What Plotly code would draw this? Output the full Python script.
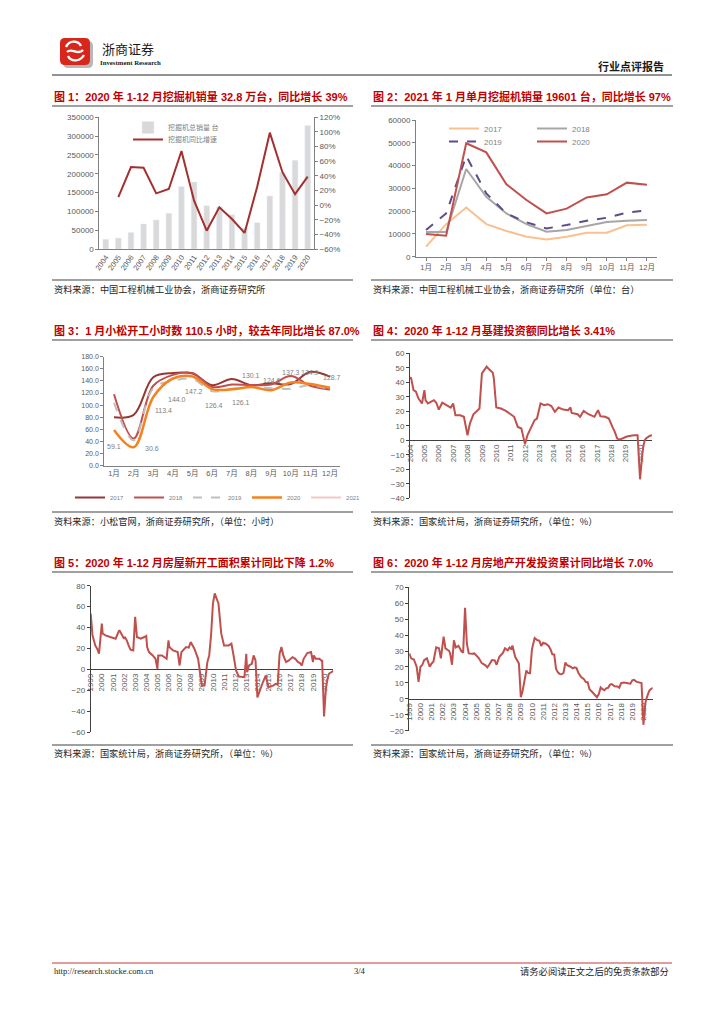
import plotly.graph_objects as go

W, H = 724, 1024
OFF = 8  # page body margin of the html page
def px(x): return (x - OFF) / W
def py(y): return 1 - (y - OFF) / H

# ---------------- data ----------------
# Fig.1 excavator annual sales
exc_years = [str(y) for y in range(2004, 2021)]
exc_sales = [26000, 29000, 44000, 66500, 77000, 95000, 166000, 178000, 115000,
             112000, 91000, 56000, 70000, 141000, 203000, 236000, 328000]
exc_yoy = [None, 11, 52, 51, 16, 22, 74, 6, -35, -3, -19, -38, 25, 99, 45, 15, 39]

# Fig.2 monthly excavator sales
months = ["1月", "2月", "3月", "4月", "5月", "6月", "7月", "8月", "9月", "10月", "11月", "12月"]
sales_2017 = [4400, 14300, 21600, 14300, 11300, 8800, 7600, 8800, 10500, 10500, 13800, 14000]
sales_2018 = [10800, 10800, 38500, 26300, 19000, 14300, 11000, 11700, 13500, 15200, 15800, 16100]
sales_2019 = [11700, 19000, 44200, 27800, 19000, 15100, 12400, 13900, 15800, 17100, 19300, 20300]
sales_2020 = [10000, 9200, 49800, 45800, 31800, 24900, 19000, 21100, 26000, 27400, 32500, 31600]

# Fig.3 Komatsu working hours
hours_2017 = [80, 84, 146, 153, 152, 133, 143, 133, 136, 135, 155, 147]
hours_2018 = [118, 45, 132, 150, 153, 130, 134, 133, 134, 148, 132, 126]
hours_2019 = [104, 42, 128, 140, 143, 123, 127, 130, 128, 127, 133, 126]
hours_2020 = [59.1, 30.6, 113.4, 144.0, 147.2, 126.4, 126.1, 130.1, 124.6, 137.3, 134.9, 128.7]
hours_2021 = [110.5]

# Fig.4 infrastructure investment YoY (%)
infra_dates = ["2004-02", "2004-03", "2004-05", "2004-07", "2004-09", "2004-11", "2004-12",
               "2005-02", "2005-03", "2005-05", "2005-08", "2005-10", "2005-12",
               "2006-02", "2006-05", "2006-09", "2006-12",
               "2007-02", "2007-04", "2007-08", "2007-11",
               "2008-02", "2008-04", "2008-07", "2008-10", "2008-12",
               "2009-02", "2009-04", "2009-06", "2009-08", "2009-11", "2009-12",
               "2010-02", "2010-06", "2010-10",
               "2011-02", "2011-05", "2011-08", "2011-11", "2011-12",
               "2012-02", "2012-04", "2012-07", "2012-10", "2012-12",
               "2013-03", "2013-06", "2013-09", "2013-12",
               "2014-03", "2014-06", "2014-10",
               "2015-02", "2015-04", "2015-05", "2015-10", "2015-12",
               "2016-03", "2016-07", "2016-12",
               "2017-03", "2017-05", "2017-09", "2017-12",
               "2018-03", "2018-05", "2018-07", "2018-09",
               "2019-02", "2019-04", "2019-09", "2019-12",
               "2020-02", "2020-03", "2020-04", "2020-05", "2020-06", "2020-07",
               "2020-08", "2020-09", "2020-10", "2020-11", "2020-12"]
infra_yoy = [43.4, 42.7, 34.6, 33.5, 29.0, 26.5, 25.4,
             34.6, 27.7, 25.4, 27.0, 27.7, 25.9,
             21.2, 25.9, 24.2, 22.6,
             25.4, 17.3, 17.3, 16.2,
             3.5, 11.5, 18.0, 20.3, 21.9,
             46.2, 48.5, 50.8, 49.0, 46.7, 42.7,
             22.6, 21.9, 20.3,
             18.0, 16.2, 9.2, 8.1, 4.6,
             -2.8, 3.5, 8.8, 13.9, 15.0,
             25.4, 24.2, 24.9, 23.6,
             19.6, 22.6, 21.2,
             20.8, 22.6, 18.9, 18.0, 16.2,
             20.3, 18.0, 16.2,
             20.8, 16.6, 16.2, 15.0,
             9.2, 5.8, 1.2, 0.5,
             2.3, 2.8, 3.5, 3.5,
             -26.9, -16.4, -8.8, -3.3, 0.1, 1.2,
             2.0, 2.4, 3.0, 3.3, 3.41]

# Fig.5 new housing starts area YoY (%)
start_dates = ["1999-02", "1999-03", "1999-04", "1999-07", "1999-09", "1999-11", "1999-12",
               "2000-02", "2000-03", "2000-06", "2000-11",
               "2001-05", "2001-08", "2001-09", "2001-12",
               "2002-02", "2002-03", "2002-05", "2002-07", "2002-09", "2002-12",
               "2003-02", "2003-04", "2003-08", "2003-12",
               "2004-02", "2004-03", "2004-05", "2004-09", "2004-12",
               "2005-02", "2005-03", "2005-07", "2005-12",
               "2006-02", "2006-03", "2006-07", "2006-12",
               "2007-02", "2007-04", "2007-09", "2007-12",
               "2008-02", "2008-06", "2008-10", "2008-12",
               "2009-02", "2009-05", "2009-08", "2009-10", "2009-12",
               "2010-02", "2010-04", "2010-06", "2010-08", "2010-11",
               "2011-02", "2011-07", "2011-10", "2011-12",
               "2012-03", "2012-06", "2012-12",
               "2013-02", "2013-03", "2013-05", "2013-08", "2013-10", "2013-12",
               "2014-02", "2014-05", "2014-08", "2014-11",
               "2015-02", "2015-07", "2015-10", "2015-12",
               "2016-02", "2016-04", "2016-06", "2016-09", "2016-12",
               "2017-04", "2017-07", "2017-10", "2017-12",
               "2018-02", "2018-04", "2018-08", "2018-12",
               "2019-02", "2019-03", "2019-05", "2019-09", "2019-11", "2019-12",
               "2020-02", "2020-03", "2020-04", "2020-05", "2020-06", "2020-07",
               "2020-08", "2020-09", "2020-10", "2020-11", "2020-12"]
start_yoy = [53.4, 40.6, 32.6, 23.0, 19.8, 15.0, 27.8,
             43.8, 34.2, 32.6, 31.0,
             29.4, 35.8, 37.4, 32.6,
             29.4, 31.0, 27.8, 23.0, 18.9, 18.2,
             50.2, 31.0, 29.4, 31.0,
             32.0, 21.4, 16.6, 13.4, 10.2,
             0.6, 13.4, 13.4, 10.2,
             27.8, 21.4, 18.2, 16.6,
             3.8, 16.6, 21.4, 20.8,
             26.2, 19.8, 10.2, -2.3,
             -15.4, -15.4, 7.0, 13.4, 32.6,
             63.0, 72.6, 67.8, 63.0, 34.2,
             23.0, 23.0, 24.6, 15.0,
             -1.0, -6.7, -7.4,
             15.0, -2.6, 3.8, 5.4, 13.4, 8.6,
             -26.6, -18.6, -12.2, -5.8,
             -17.0, -15.4, -13.8, -14.4,
             15.0, 21.4, 13.4, 7.0, 8.6,
             11.8, 10.2, 7.0, 6.1,
             3.8, 10.2, 15.7, 16.6,
             7.0, 13.4, 10.2, 10.2, 8.6, 8.5,
             -44.9, -27.2, -18.4, -12.8, -7.6, -4.5,
             -3.6, -3.4, -2.6, -2.0, -1.2]

# Fig.6 real estate development investment YoY (%)
reinv_dates = ["1999-02", "1999-04", "1999-07", "1999-09", "1999-10", "1999-12",
               "2000-02", "2000-04", "2000-06", "2000-09", "2000-12",
               "2001-02", "2001-04", "2001-07", "2001-10", "2001-12",
               "2002-02", "2002-03", "2002-05", "2002-09", "2002-10", "2002-12",
               "2003-02", "2003-04", "2003-07", "2003-10", "2003-12",
               "2004-02", "2004-04", "2004-06", "2004-10", "2004-12",
               "2005-05", "2005-08", "2005-12",
               "2006-02", "2006-04", "2006-07", "2006-10", "2006-12",
               "2007-03", "2007-07", "2007-09", "2007-12",
               "2008-02", "2008-04", "2008-05", "2008-08", "2008-12",
               "2009-02", "2009-04", "2009-06", "2009-08", "2009-10", "2009-12",
               "2010-02", "2010-05", "2010-08", "2010-10", "2010-12",
               "2011-02", "2011-05", "2011-08", "2011-10", "2011-12",
               "2012-02", "2012-03", "2012-04", "2012-06", "2012-08", "2012-10", "2012-12",
               "2013-02", "2013-04", "2013-07", "2013-10", "2013-12",
               "2014-02", "2014-04", "2014-07", "2014-10", "2014-12",
               "2015-02", "2015-04", "2015-07", "2015-10", "2015-12",
               "2016-02", "2016-04", "2016-06", "2016-08", "2016-10", "2016-12",
               "2017-02", "2017-04", "2017-07", "2017-10", "2017-12",
               "2018-02", "2018-05", "2018-08", "2018-10", "2018-12",
               "2019-02", "2019-04", "2019-07", "2019-10", "2019-12",
               "2020-02", "2020-03", "2020-04", "2020-05", "2020-06", "2020-07",
               "2020-08", "2020-09", "2020-10", "2020-11", "2020-12"]
reinv_yoy = [28.5, 25.4, 24.7, 22.2, 20.1, 10.7,
             20.1, 21.2, 24.3, 25.4, 20.1,
             22.2, 23.3, 32.3, 31.7, 25.4,
             38.0, 39.0, 31.7, 30.0, 28.5, 21.4,
             36.7, 32.3, 33.3, 30.0, 29.0,
             57.1, 34.6, 28.5, 28.3, 28.5,
             25.4, 22.4, 21.0,
             19.7, 21.4, 24.3, 24.1, 21.4,
             26.4, 29.0, 31.7, 30.5,
             32.3, 31.0, 33.5, 26.4, 22.2,
             1.0, 4.9, 11.7, 17.8, 16.2, 16.1,
             31.1, 38.2, 36.7, 36.5, 33.2,
             35.2, 34.6, 33.2, 31.1, 27.9,
             27.8, 23.5, 18.7, 16.6, 15.6, 15.4, 16.2,
             22.8, 21.1, 20.3, 19.2, 19.8,
             19.3, 16.4, 13.7, 12.4, 10.5,
             10.4, 6.0, 4.3, 2.0, 1.0,
             3.0, 7.2, 6.1, 5.4, 6.6, 6.9,
             8.9, 9.3, 7.9, 7.8, 7.0,
             9.9, 10.2, 10.1, 9.7, 9.5,
             11.6, 11.9, 10.6, 10.3, 9.9,
             -16.3, -7.7, -3.3, -0.3, 1.9, 3.4,
             4.6, 5.6, 6.3, 6.8, 7.0]

tick_years_a = list(range(2004, 2021))
tick_years_b = list(range(1999, 2021))

# ---------------- styles ----------------
TICK = dict(family="Liberation Sans, Noto Sans CJK SC", size=8, color="#595959")
AXC = "#808080"
DARK = "#404040"
RED = "#C0504D"

fig = go.Figure()

# Fig.1
fig.add_trace(go.Bar(x=exc_years, y=exc_sales, name="挖掘机总销量 台", marker_color="#D9D9D9",
                     width=0.45, xaxis="x", yaxis="y", legend="legend"))
fig.add_trace(go.Scatter(x=exc_years, y=exc_yoy, name="挖掘机同比增速", mode="lines",
                         line=dict(color="#A3302E", width=2), xaxis="x", yaxis="y2",
                         legend="legend5"))

# Fig.2
for nm, vals, col, dash, lg in [("2017", sales_2017, "#FAC090", "solid", "legend2"),
                                ("2018", sales_2018, "#A6A6A6", "solid", "legend2"),
                                ("2019", sales_2019, "#5F4B8B", "dash", "legend3"),
                                ("2020", sales_2020, "#C0504D", "solid", "legend3")]:
    fig.add_trace(go.Scatter(x=months, y=vals, name=nm, mode="lines",
                             line=dict(color=col, width=2, dash=dash),
                             xaxis="x2", yaxis="y3", legend=lg))

# Fig.3
for nm, vals, col, dash, w in [("2017", hours_2017, "#953735", "solid", 2),
                               ("2018", hours_2018, "#C0504D", "solid", 2),
                               ("2019", hours_2019, "#BFBFBF", "dash", 2),
                               ("2020", hours_2020, "#F5821F", "solid", 2.5),
                               ("2021", hours_2021, "#F2C7C7", "solid", 2)]:
    fig.add_trace(go.Scatter(x=months[:len(vals)], y=vals, name=nm, mode="lines",
                             line=dict(color=col, width=w, dash=dash, shape="spline", smoothing=1),
                             xaxis="x3", yaxis="y4", legend="legend4"))

# Fig.4-6
fig.add_trace(go.Scatter(x=infra_dates, y=infra_yoy, mode="lines", showlegend=False,
                         line=dict(color=RED, width=2), xaxis="x4", yaxis="y5"))
fig.add_trace(go.Scatter(x=start_dates, y=start_yoy, mode="lines", showlegend=False,
                         line=dict(color=RED, width=2), xaxis="x5", yaxis="y6"))
fig.add_trace(go.Scatter(x=reinv_dates, y=reinv_yoy, mode="lines", showlegend=False,
                         line=dict(color=RED, width=2), xaxis="x6", yaxis="y7"))

# ---------------- axes ----------------
def zero_pos(dom, rng):
    return dom[0] + (0 - rng[0]) / (rng[1] - rng[0]) * (dom[1] - dom[0])

d1x = [px(99.4), px(314)]; d1y = [py(249), py(117.3)]
d2x = [px(416), px(657)]; d2y = [py(256.7), py(120)]
d3x = [px(104.2), px(339.8)]; d3y = [py(465.7), py(356.7)]
d4x = [px(410), px(652)]; d4y = [py(498.3), py(353.3)]
d5x = [px(90.7), px(333.3)]; d5y = [py(732.3), py(585.7)]
d6x = [px(409.3), px(652.7)]; d6y = [py(730.7), py(587.3)]
r4 = [-40, 60]; r5 = [-60, 80]; r6 = [-20, 70]

base_y = dict(showgrid=False, zeroline=False, showline=True, linecolor=AXC, linewidth=1,
              ticks="outside", ticklen=3, tickcolor=AXC, tickfont=TICK, automargin=False)
base_x = dict(showgrid=False, zeroline=False, showline=True, linecolor=AXC, linewidth=1,
              tickfont=TICK, automargin=False)

lay = dict(
    xaxis=dict(base_x, domain=d1x, anchor="y", type="category", tickangle=-55,
               tickfont=dict(TICK, size=7.5)),
    yaxis=dict(base_y, domain=d1y, anchor="x", range=[0, 350000], dtick=50000, tickformat="d"),
    yaxis2=dict(base_y, overlaying="y", side="right", anchor="x", range=[-60, 120], dtick=20,
                ticksuffix="%"),
    xaxis2=dict(base_x, domain=d2x, anchor="y3", type="category", range=[-0.5, 11.5],
                ticks="outside", ticklen=3, tickcolor=AXC, tickfont=dict(TICK, size=7.5)),
    yaxis3=dict(base_y, domain=d2y, anchor="x2", range=[0, 60000], dtick=10000, tickformat="d"),
    xaxis3=dict(base_x, domain=d3x, anchor="y4", type="category", range=[-0.5, 11.5],
                tickfont=dict(TICK, size=7.5)),
    yaxis4=dict(base_y, domain=d3y, anchor="x3", range=[0, 180], dtick=20, tickformat=".1f",
                tickfont=dict(TICK, size=7)),
    xaxis4=dict(base_x, domain=d4x, anchor="free", position=zero_pos(d4y, r4), type="date",
                range=[infra_dates[0], infra_dates[-1]], linecolor=DARK,
                tickvals=[f"{y}-02" for y in tick_years_a], ticktext=[str(y) for y in tick_years_a],
                tickangle=-90, layer="below traces"),
    yaxis5=dict(base_y, domain=d4y, anchor="x4", range=r4, dtick=10, linecolor=DARK, tickcolor=DARK),
    xaxis5=dict(base_x, domain=d5x, anchor="free", position=zero_pos(d5y, r5), type="date",
                range=[start_dates[0], start_dates[-1]], linecolor=DARK,
                tickvals=[f"{y}-02" for y in tick_years_b], ticktext=[str(y) for y in tick_years_b],
                tickangle=-90, layer="below traces"),
    yaxis6=dict(base_y, domain=d5y, anchor="x5", range=r5, dtick=20, linecolor=DARK, tickcolor=DARK),
    xaxis6=dict(base_x, domain=d6x, anchor="free", position=zero_pos(d6y, r6), type="date",
                range=[reinv_dates[0], reinv_dates[-1]], linecolor=DARK,
                tickvals=[f"{y}-02" for y in tick_years_b], ticktext=[str(y) for y in tick_years_b],
                tickangle=-90, layer="below traces"),
    yaxis7=dict(base_y, domain=d6y, anchor="x6", range=r6, dtick=10, linecolor=DARK, tickcolor=DARK),
)

LEGF = dict(family="Noto Sans CJK SC, Liberation Sans", size=7, color="#7F7F7F")
legends = dict(
    legend=dict(x=px(128), y=py(113), xanchor="left", yanchor="top", orientation="h",
                font=LEGF, bgcolor="rgba(0,0,0,0)"),
    legend5=dict(x=px(128), y=py(125), xanchor="left", yanchor="top", orientation="h",
                 font=LEGF, bgcolor="rgba(0,0,0,0)"),
    legend2=dict(x=px(444), y=py(114), xanchor="left", yanchor="top", orientation="h",
                 font=dict(family="Liberation Sans", size=8, color="#7F7F7F"),
                 entrywidth=43, bgcolor="rgba(0,0,0,0)"),
    legend3=dict(x=px(444), y=py(127), xanchor="left", yanchor="top", orientation="h",
                 font=dict(family="Liberation Sans", size=8, color="#7F7F7F"),
                 entrywidth=43, bgcolor="rgba(0,0,0,0)"),
    legend4=dict(x=px(218), y=py(483), xanchor="center", yanchor="top", orientation="h",
                 font=dict(family="Liberation Sans", size=6, color="#7F7F7F"),
                 bgcolor="rgba(0,0,0,0)"),
)

# ---------------- annotations ----------------
ann = []
TITLE = dict(family="Liberation Sans, Noto Sans CJK SC", size=11, color="#C00000")
SRC = dict(family="Noto Sans CJK SC", size=9.2, color="#262626")

def text(x, y, s, font, xanchor="left"):
    ann.append(dict(x=px(x), y=py(y), xref="paper", yref="paper", text=s, showarrow=False,
                    xanchor=xanchor, yanchor="middle", font=font))

titles = [(52, 96, "图 1：2020 年 1-12 月挖掘机销量 32.8 万台，同比增长 39%"),
          (371, 96, "图 2：2021 年 1 月单月挖掘机销量 19601 台，同比增长 97%"),
          (52, 330, "图 3：1 月小松开工小时数 110.5 小时，较去年同比增长 87.0%"),
          (371, 330, "图 4：2020 年 1-12 月基建投资额同比增长 3.41%"),
          (52, 562, "图 5：2020 年 1-12 月房屋新开工面积累计同比下降 1.2%"),
          (371, 562, "图 6：2020 年 1-12 月房地产开发投资累计同比增长 7.0%")]
for x, y, s in titles:
    text(x, y, "<b>" + s + "</b>", TITLE)

sources = [(52, 289, "资料来源：中国工程机械工业协会，浙商证券研究所"),
           (371, 289, "资料来源：中国工程机械工业协会，浙商证券研究所（单位：台）"),
           (52, 521, "资料来源：小松官网，浙商证券研究所，（单位：小时）"),
           (371, 521, "资料来源：国家统计局，浙商证券研究所，（单位：%）"),
           (52, 753, "资料来源：国家统计局，浙商证券研究所，（单位：%）"),
           (371, 753, "资料来源：国家统计局，浙商证券研究所，（单位：%）")]
for x, y, s in sources:
    text(x, y, s, SRC)

# header / footer
text(100, 48, "浙商证券", dict(family="Noto Sans CJK SC", size=13, color="#1A1A1A"))
text(98, 62, "<b>Investment Research</b>", dict(family="Liberation Serif", size=6.8, color="#1A1A1A"))
text(666, 66, "<b>行业点评报告</b>", dict(family="Noto Sans CJK SC", size=11, color="#1A1A1A"), xanchor="right")
text(52, 971, "http://research.stocke.com.cn", dict(family="Liberation Serif", size=8.5, color="#1A1A1A"))
text(360, 971, "3/4", dict(family="Liberation Serif", size=8.5, color="#1A1A1A"), xanchor="center")
text(671, 971, "请务必阅读正文之后的免责条款部分", dict(family="Noto Sans CJK SC", size=9.3, color="#1A1A1A"),
     xanchor="right")

# data labels of 2020 in Fig.3
label_dx = [0, 18, 10, 4, 1, 2, 9, 0, 1, 0, 0, 2]
label_dy = [-17, -1, -13, -21, -15, -16, -13, 11, 10, 10, 12, 10]
for m, v, dx, dy in zip(months, hours_2020, label_dx, label_dy):
    ann.append(dict(x=m, y=v, xref="x3", yref="y4", text=f"{v:.1f}", showarrow=False,
                    xshift=dx, yshift=dy, font=dict(family="Liberation Sans", size=7, color="#808080")))

# ---------------- shapes ----------------
shapes = []
def hline(x0, x1, y, color="#808080", width=1.5):
    shapes.append(dict(type="line", xref="paper", yref="paper", x0=px(x0), x1=px(x1),
                       y0=py(y), y1=py(y), line=dict(color=color, width=width)))

hline(52, 672, 75, "#6E6E6E", 1.5)
for y in (106, 340, 572, 280, 512, 745):
    hline(52, 353, y)
    hline(371, 673, y)
hline(52, 672, 963, "#E39C9C", 2)

def path(pts):
    out = []
    for cmd, coords in pts:
        out.append(cmd + " ".join(f"{px(a):.5f},{py(b):.5f}" for a, b in coords))
    return " ".join(out)

def rrect(x0, y0, x1, y1, r):
    return path([("M", [(x0 + r, y0)]), ("L", [(x1 - r, y0)]), ("Q", [(x1, y0), (x1, y0 + r)]),
                 ("L", [(x1, y1 - r)]), ("Q", [(x1, y1), (x1 - r, y1)]), ("L", [(x0 + r, y1)]),
                 ("Q", [(x0, y1), (x0, y1 - r)]), ("L", [(x0, y0 + r)]), ("Q", [(x0, y0), (x0 + r, y0)])]) + " Z"

shapes.append(dict(type="path", xref="paper", yref="paper", path=rrect(63, 41, 93, 68, 5),
                   fillcolor="#B8B8B8", line=dict(width=0)))
shapes.append(dict(type="path", xref="paper", yref="paper", path=rrect(60, 38, 90, 65, 5),
                   fillcolor="#D9261C", line=dict(width=0)))
for seg in ([("M", [(66, 47)]), ("C", [(69, 40), (78, 40), (81, 46)])],
            [("M", [(84, 55)]), ("C", [(80, 62), (71, 62), (68, 56)])],
            [("M", [(67, 52)]), ("C", [(72, 47), (78, 56), (83, 50)])]):
    shapes.append(dict(type="path", xref="paper", yref="paper", path=path(seg),
                       line=dict(color="white", width=2.4)))

fig.update_layout(width=W, height=H, autosize=False, margin=dict(l=0, r=0, t=0, b=0),
                  paper_bgcolor="white", plot_bgcolor="rgba(0,0,0,0)",
                  font=dict(family="Liberation Sans, Noto Sans CJK SC", size=8, color="#595959"),
                  bargap=0.5, annotations=ann, shapes=shapes, **lay, **legends)

fig.write_html("out.html")
